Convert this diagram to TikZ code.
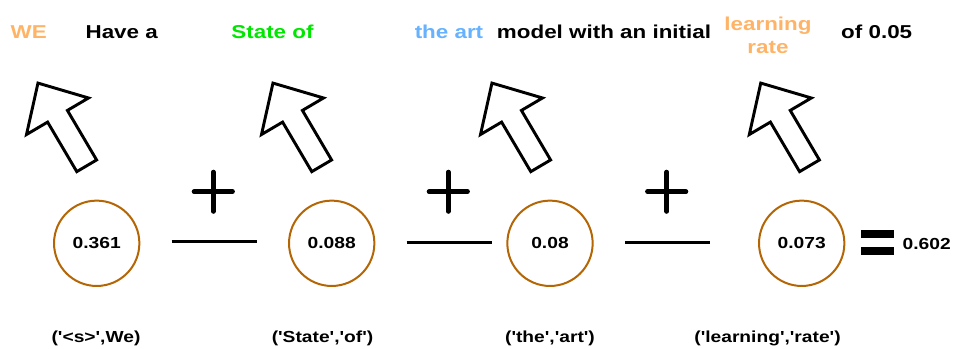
\documentclass[tikz,border=0pt]{standalone}
\usepackage{fontspec}
\newfontfamily\drawfont[FakeStretch=1.2]{Liberation Sans}
\usepackage{tikz}
\usetikzlibrary{positioning}
\definecolor{wordorange}{HTML}{FFB366}
\definecolor{wordgreen}{HTML}{00E600}
\definecolor{wordblue}{HTML}{66B2FF}
\definecolor{ringbrown}{HTML}{B46504}
\tikzstyle{word}   = [font=\drawfont\bfseries\fontsize{14}{17.25}\selectfont, anchor=base, inner sep=0pt, align=center]
\tikzstyle{prob}   = [circle, draw=ringbrown, line width=1.5pt, minimum size=64pt, inner sep=0pt, font=\drawfont\bfseries\fontsize{12}{14}\selectfont]
\tikzstyle{pair}   = [font=\drawfont\bfseries\fontsize{12}{14}\selectfont, anchor=base, inner sep=0pt]
\tikzstyle{sign}   = [line width=3.4pt, line cap=round]
\tikzstyle{bar}    = [line width=2.6pt]
\tikzset{
	hollowarrow/.pic={
		\draw[line width=2.2pt, fill=white, line join=miter]
			(0,-11.5) -- (57.5,-11.5) -- (57.5,-36) -- (96,0) -- (57.5,36) -- (57.5,11.5) -- (0,11.5) -- cycle;
	}
}

\begin{document}
\begin{tikzpicture}[x=0.75pt,y=-0.75pt]
		\useasboundingbox (0,0) rectangle (954,349);

		% sentence
		\node[word, text=wordorange] (w1) at (28.7,38.5) {WE};
		\node[word] (w2) at (121.7,38.5) {Have a};
		\node[word, text=wordgreen] (w3) at (272.5,38.5) {State of};
		\node[word, text=wordblue] (w4) at (449,38.5) {the art};
		\node[word] (w5) at (604,38.5) {model with an initial};
		\node[word, text=wordorange, anchor=center] (w6) at (768,35) {learning\\rate};
		\node[word] (w7) at (876.7,38.5) {of 0.05};

		% arrows up to the words
		\pic[rotate=120.5] at (86.7,165.8) {hollowarrow};
		\pic[rotate=120.5] at (321.7,165.8) {hollowarrow};
		\pic[rotate=120.5] at (540.7,165.8) {hollowarrow};
		\pic[rotate=120.5] at (809.5,165.8) {hollowarrow};

		% probabilities
		\node[prob] (p1) at (96.7,243.3) {0.361};
		\node[prob] (p2) at (331.7,243.3) {0.088};
		\node[prob] (p3) at (550,243.3) {0.08};
		\node[prob] (p4) at (801.7,243.3) {0.073};

		% plus signs and lines
		\draw[sign] (213.3,172) -- (213.3,211.5);
		\draw[sign] (194,191.7) -- (232.6,191.7);
		\draw[sign] (448.3,172) -- (448.3,211.5);
		\draw[sign] (429,191.7) -- (467.6,191.7);
		\draw[sign] (666.7,172) -- (666.7,211.5);
		\draw[sign] (647.4,191.7) -- (686,191.7);

		\draw[bar] (171.7,241.7) -- (256.7,241.7);
		\draw[bar] (406.7,242.3) -- (492,242.3);
		\draw[bar] (625,242.3) -- (710,242.3);

		% equals and sum
		\fill (860.5,230) rectangle (894,238.3);
		\fill (860.5,246.7) rectangle (894,255);
		\node[pair] (total) at (926.7,250) {0.602};

		% bigram pairs
		\node[pair] (l1) at (96,342) {('<s>',We)};
		\node[pair] (l2) at (322.5,342) {('State','of')};
		\node[pair] (l3) at (550,342) {('the','art')};
		\node[pair] (l4) at (767.5,342) {('learning','rate')};
	\end{tikzpicture}
\end{document}
